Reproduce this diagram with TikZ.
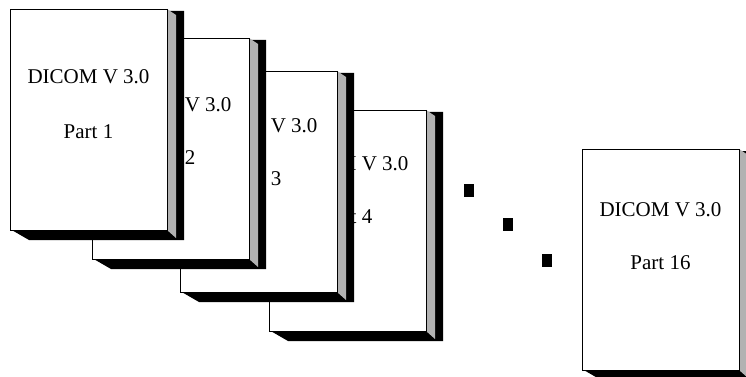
\documentclass[tikz,border=0pt]{standalone}
\usepackage{fontspec}
\setmainfont{Liberation Serif}
\definecolor{sidegray}{RGB}{178,178,178}
\newcommand\dpage[7]{%
  \path[fill=black] (#2+157,-#3-2) -- (#2+174,-#3-2) -- (#2+174,-#3-231) -- (#2+19,-#3-231) -- (#2,-#3-220) -- cycle;
  \path[fill=sidegray] (#2+157,-#3) -- (#2+166,-#3-6) -- (#2+166,-#3-229) -- (#2+157,-#3-221) -- cycle;
  \node[face] (#1) at (#2+78.5,-#3-110.5) {};
  \node[lbl] (#1a) at (#2+78.5+#7,-#3-#4) {DICOM V 3.0};
  \node[lbl] (#1b) at (#2+78.5+#7,-#3-#5) {Part #6};
}
\begin{document}
\begin{tikzpicture}[x=1pt,y=1pt,
  face/.style={draw=black,fill=white,line width=0.9pt,minimum width=157pt,minimum height=221pt,inner sep=0pt},
  lbl/.style={anchor=base,inner sep=0pt,font=\fontsize{21}{25}\selectfont},
  dotmark/.style={fill=black,minimum width=10pt,minimum height=13pt,inner sep=0pt}]
\useasboundingbox[fill=white] (0,0) rectangle (746,-377);
\begin{scope}
\clip (0,0) rectangle (746,-377);
\dpage{p4}{269}{110}{60}{113}{4}{0}
\dpage{p3}{180}{71}{61}{114}{3}{-2}
\dpage{p2}{92}{38}{74}{126}{2}{0}
\dpage{p1}{10}{9}{75}{129}{1}{0}
\dpage{p16}{582}{149}{67}{120}{16}{0}
\node[dotmark] (d1) at (469,-190.5) {};
\node[dotmark] (d2) at (508,-224) {};
\node[dotmark] (d3) at (547,-260) {};
\end{scope}
\end{tikzpicture}
\end{document}
